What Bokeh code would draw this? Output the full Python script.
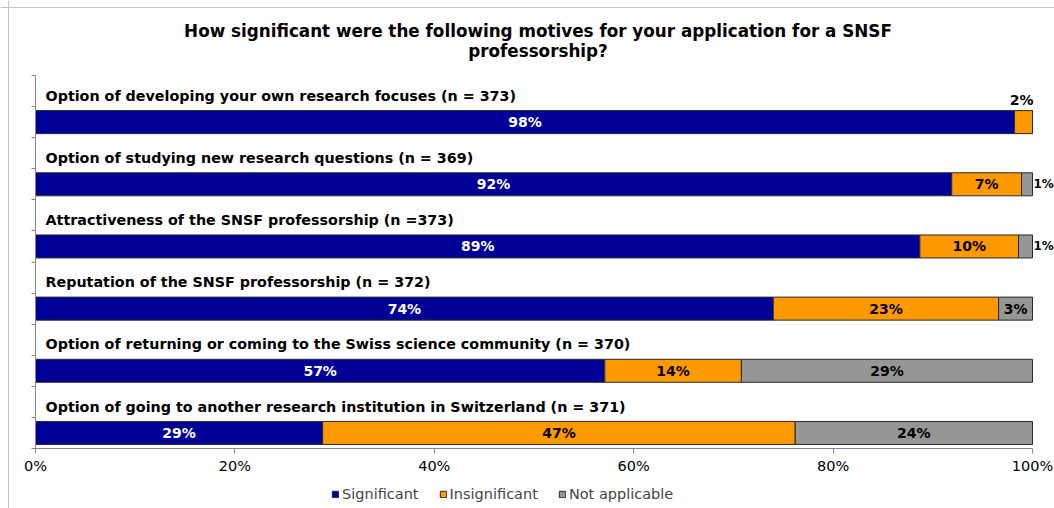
from bokeh.plotting import figure
from bokeh.models import (ColumnDataSource, Range1d, FixedTicker, Label, Legend, Span,
                          CustomJSTickFormatter)
from bokeh.core.properties import value
from bokeh.embed import file_html
from bokeh.resources import INLINE

title_lines = ["How significant were the following motives for your application for a SNSF",
               "professorship?"]
categories = [
    "Option of developing your own research focuses (n = 373)",
    "Option of studying new research questions (n = 369)",
    "Attractiveness of the SNSF professorship (n =373)",
    "Reputation of the SNSF professorship (n = 372)",
    "Option of returning or coming to the Swiss science community (n = 370)",
    "Option of going to another research institution in Switzerland (n = 371)",
]
significant = [98.2, 91.9, 88.7, 74.0, 57.1, 28.8]
insignificant = [1.8, 7.0, 9.9, 22.6, 13.7, 47.4]
not_applicable = [0.0, 1.1, 1.4, 3.4, 29.2, 23.8]
series_names = ["Significant", "Insignificant", "Not applicable"]
colors = ["#000096", "#FF9900", "#969696"]
x_ticks = [0, 20, 40, 60, 80, 100]

FONT = "DejaVu Sans"
BAR_H = 0.74
W, H = 1054, 508

# pixel layout of the plotting area inside the canvas
X0_PX, X100_PX = 35, 1032
Y_BOTTOM_PX, Y_TOP_PX = 448, 75
n = len(categories)
ppx = (X100_PX - X0_PX) / 100.0
ppy = (Y_BOTTOM_PX - Y_TOP_PX) / (2 * n)

ys = [2 * (n - 1 - i) + 0.5 for i in range(n)]
label_ys = [y + 0.85 for y in ys]

source = ColumnDataSource(dict(y=ys, sig=significant, ins=insignificant, na=not_applicable))

p = figure(width=W, height=H, output_backend="svg", toolbar_location=None,
           x_range=Range1d(-X0_PX / ppx, (W - X0_PX) / ppx),
           y_range=Range1d(-(H - Y_BOTTOM_PX) / ppy, Y_BOTTOM_PX / ppy),
           min_border=0)
p.outline_line_color = None
p.xgrid.visible = False
p.ygrid.visible = False
p.background_fill_color = "white"
p.border_fill_color = "white"

# chart-area border (left/top)
p.add_layout(Span(location=-(X0_PX - 8) / ppx, dimension="height", line_color="#c4c4c4", line_width=1))
p.add_layout(Span(location=(Y_BOTTOM_PX - 7) / ppy, dimension="width", line_color="#c4c4c4", line_width=1))

renderers = p.hbar_stack(["sig", "ins", "na"], y="y", height=BAR_H, color=colors,
                         line_color="#2a2a2a", line_width=1, source=source)

# axes
xa = p.xaxis[0]
xa.fixed_location = 0
xa.bounds = (0, 100)
xa.ticker = FixedTicker(ticks=x_ticks)
xa.formatter = CustomJSTickFormatter(code="return tick + '%';")
xa.major_label_text_font = FONT
xa.major_label_text_font_size = "14.5px"
xa.major_label_text_color = "#000000"
xa.axis_line_color = "#868686"
xa.major_tick_line_color = "#868686"
xa.major_tick_in = 0
xa.major_tick_out = 5
xa.minor_tick_line_color = None
xa.major_label_standoff = 4

ya = p.yaxis[0]
ya.fixed_location = 0
ya.bounds = (0, 2 * n)
ya.ticker = FixedTicker(ticks=list(range(0, 2 * n + 1)))
ya.formatter = CustomJSTickFormatter(code="return '';")
ya.axis_line_color = "#868686"
ya.major_tick_line_color = "#868686"
ya.major_tick_in = 0
ya.major_tick_out = 4
ya.minor_tick_line_color = None

# category labels
for cat, ly in zip(categories, label_ys):
    p.add_layout(Label(x=0, y=ly, x_offset=10, text=cat, text_font=FONT,
                       text_font_style="bold", text_font_size="14.3px",
                       text_baseline="middle", text_align="left", text_color="#000000"))

# value labels
tx, ty, tt, tc, talign, tbase, txo, tyo, tfs = [], [], [], [], [], [], [], [], []
for i in range(n):
    vals = [significant[i], insignificant[i], not_applicable[i]]
    left = 0.0
    for j, v in enumerate(vals):
        if v > 0:
            lab = f"{round(v)}%"
            if v >= 2.5:
                tx.append(left + v / 2); ty.append(ys[i]); talign.append("center"); tbase.append("middle")
                txo.append(0); tyo.append(0); tfs.append("14px")
            elif j == 1:
                tx.append(left + v / 2); ty.append(ys[i] + BAR_H / 2); talign.append("center"); tbase.append("bottom")
                txo.append(-2); tyo.append(-3); tfs.append("14px")
            else:
                tx.append(left + v); ty.append(ys[i]); talign.append("left"); tbase.append("middle")
                txo.append(1); tyo.append(0); tfs.append("12px")
            tt.append(lab)
            tc.append("#FFFFFF" if (j == 0 and v >= 2.5) else "#000000")
        left += v

lsrc = ColumnDataSource(dict(x=tx, y=ty, t=tt, c=tc, a=talign, b=tbase, xo=txo, yo=tyo, fs=tfs))
p.text(x="x", y="y", text="t", text_color="c", text_align="a", text_baseline="b",
       x_offset="xo", y_offset="yo", text_font=value(FONT), text_font_style="bold",
       text_font_size="fs", source=lsrc)

# title
title_px = [30, 50]
for line, ypx in zip(title_lines, title_px):
    p.add_layout(Label(x=(537.5 - X0_PX) / ppx, y=(Y_BOTTOM_PX - ypx) / ppy, text=line,
                       text_font=FONT, text_font_style="bold", text_font_size="16.8px",
                       text_align="center", text_baseline="middle", text_color="#000000"))

legend = Legend(items=[(name, [r]) for name, r in zip(series_names, renderers)],
                orientation="horizontal", location=(331, 6),
                glyph_width=8, glyph_height=8, label_standoff=3, spacing=20,
                padding=0, margin=0, border_line_color=None, background_fill_alpha=0,
                label_text_font=FONT, label_text_font_size="14.5px", label_height=14)
p.add_layout(legend, "center")

open("out.html", "w").write(file_html(p, INLINE))
